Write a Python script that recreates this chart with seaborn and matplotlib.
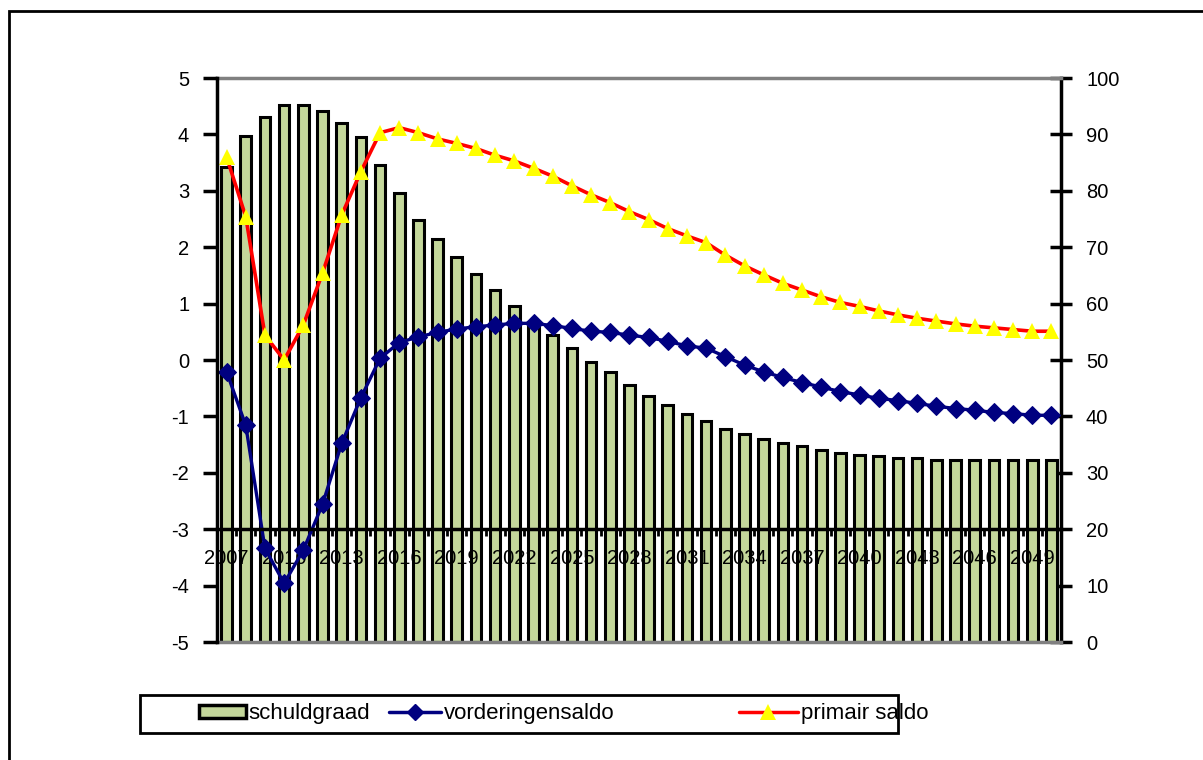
import matplotlib
matplotlib.use("Agg")
import matplotlib.pyplot as plt
import seaborn as sns
import numpy as np
import pandas as pd
from matplotlib.lines import Line2D
from matplotlib.patches import Patch, Rectangle

sns.set_theme(style="white")
plt.rcParams['font.family'] = ['Liberation Sans', 'DejaVu Sans']
plt.rcParams['text.color'] = 'black'

years = list(range(2007, 2051))
schuldgraad = [84.3, 89.8, 93.1, 95.2, 95.2, 94.1, 92.0, 89.5, 84.5, 79.6,
               74.8, 71.4, 68.3, 65.2, 62.4, 59.6, 56.8, 54.4, 52.1, 49.6,
               47.8, 45.6, 43.7, 42.1, 40.5, 39.1, 37.8, 36.8, 36.0, 35.3,
               34.8, 34.0, 33.5, 33.2, 32.9, 32.6, 32.6, 32.2, 32.2, 32.2,
               32.2, 32.2, 32.2, 32.2]
vorderingensaldo = [-0.21, -1.16, -3.34, -3.96, -3.37, -2.56, -1.48, -0.67, 0.03, 0.31,
                    0.41, 0.49, 0.55, 0.59, 0.62, 0.65, 0.65, 0.61, 0.56, 0.51,
                    0.49, 0.44, 0.40, 0.33, 0.25, 0.21, 0.06, -0.09, -0.21, -0.31,
                    -0.40, -0.48, -0.56, -0.62, -0.68, -0.72, -0.77, -0.82, -0.86, -0.89,
                    -0.93, -0.95, -0.98, -0.98]
primair_saldo = [3.60, 2.54, 0.44, 0.0, 0.62, 1.54, 2.57, 3.34, 4.03, 4.12,
                 4.03, 3.92, 3.84, 3.75, 3.63, 3.53, 3.40, 3.26, 3.09, 2.93,
                 2.79, 2.63, 2.49, 2.33, 2.20, 2.08, 1.86, 1.67, 1.51, 1.36,
                 1.24, 1.12, 1.02, 0.95, 0.87, 0.80, 0.74, 0.69, 0.64, 0.60,
                 0.57, 0.54, 0.51, 0.51]
tick_years = years[::3]
left_ticks = list(range(-5, 6))
right_ticks = list(range(0, 101, 10))

bar_color = "#c4d79b"
navy = "#000080"

df = pd.DataFrame({
    "pos": np.arange(len(years)),
    "schuldgraad": schuldgraad,
    "vorderingensaldo": vorderingensaldo,
    "primair_saldo": primair_saldo,
})

W, H = 1203, 760
fig = plt.figure(figsize=(W / 100, H / 100), dpi=100)
ax = fig.add_axes([217 / W, 1 - 642 / H, (1061 - 217) / W, (642 - 78) / H])
ax_bar = ax.twinx()
ax.set_zorder(ax_bar.get_zorder() + 1)
ax.patch.set_visible(False)

sns.barplot(data=df, x="pos", y="schuldgraad", ax=ax_bar, native_scale=True,
            color=bar_color, saturation=1, edgecolor="black", linewidth=2.2,
            width=0.55)

sns.lineplot(data=df, x="pos", y="vorderingensaldo", ax=ax, color=navy,
             linewidth=2.4, marker="D", markersize=9, markeredgecolor=navy,
             markerfacecolor=navy, legend=False)
sns.lineplot(data=df, x="pos", y="primair_saldo", ax=ax, color="red",
             linewidth=2.6, marker="^", markersize=12, markerfacecolor="yellow",
             markeredgecolor="yellow", markeredgewidth=0, legend=False)

ax.set_xlim(-0.5, len(years) - 0.5)
ax.set_ylim(-5, 5)
ax.set_yticks(left_ticks)
ax.set_yticklabels([str(v) for v in left_ticks])
ax_bar.set_ylim(0, 100)
ax_bar.set_yticks(right_ticks)
ax_bar.set_yticklabels([str(v) for v in right_ticks])

ax.set_xticks(np.arange(0, len(years), 3))
ax.set_xticklabels([str(y) for y in tick_years])
ax.set_xticks(np.arange(-0.5, len(years), 1), minor=True)
ax.set_xlabel("")
ax.set_ylabel("")
ax_bar.set_xlabel("")
ax_bar.set_ylabel("")
ax.grid(False)
ax_bar.grid(False)

# spines
ax.spines["bottom"].set_position(("data", -3))
ax.spines["bottom"].set_color("black")
ax.spines["bottom"].set_linewidth(2.5)
ax.spines["left"].set_color("black")
ax.spines["left"].set_linewidth(2.5)
ax.spines["top"].set_visible(False)
ax.spines["right"].set_visible(False)
ax_bar.spines["left"].set_visible(False)
ax_bar.spines["right"].set_color("black")
ax_bar.spines["right"].set_linewidth(2.5)
for s in ("top", "bottom"):
    ax_bar.spines[s].set_color("#808080")
    ax_bar.spines[s].set_linewidth(2.5)

ax.tick_params(axis="x", which="major", length=0, pad=14, labelsize=14.5,
               labelcolor="black")
ax.tick_params(axis="x", which="minor", length=5, width=2, direction="out",
               color="black", bottom=True)
ax.tick_params(axis="y", direction="out", length=10, width=2.5, pad=10,
               labelsize=14.5, color="black", labelcolor="black", left=True)
ax_bar.tick_params(axis="y", direction="inout", length=16, width=2.5, pad=10,
                   labelsize=14.5, color="black", labelcolor="black", right=True)

# legend
fs = 16
h1 = Patch(facecolor=bar_color, edgecolor="black", linewidth=2.5)
h2 = Line2D([], [], color=navy, lw=2.5, marker="D", ms=8, mfc=navy, mec=navy)
h3 = Line2D([], [], color="red", lw=2.5, marker="^", ms=12, mfc="yellow",
            mec="yellow", mew=0)
ly = 1 - 714 / H
for h, lab, x0, hl in [(h1, "schuldgraad", 199, 2.1),
                       (h2, "vorderingensaldo", 389, 2.35),
                       (h3, "primair saldo", 739, 2.65)]:
    fig.legend([h], [lab], loc="center left", bbox_to_anchor=(x0 / W, ly),
               frameon=False, fontsize=fs, handlelength=hl,
               handletextpad=0.12, borderpad=0, borderaxespad=0,
               handleheight=0.55, labelcolor="black")

fig.add_artist(Rectangle((140 / W, 1 - 733 / H), (898 - 140) / W, 38 / H,
                         transform=fig.transFigure, fill=False,
                         edgecolor="black", linewidth=2))
fig.add_artist(Rectangle((9 / W, -0.1), 1.2, (H - 11) / H + 0.1,
                         transform=fig.transFigure, fill=False,
                         edgecolor="black", linewidth=2))

fig.savefig("out.png", dpi=100)
